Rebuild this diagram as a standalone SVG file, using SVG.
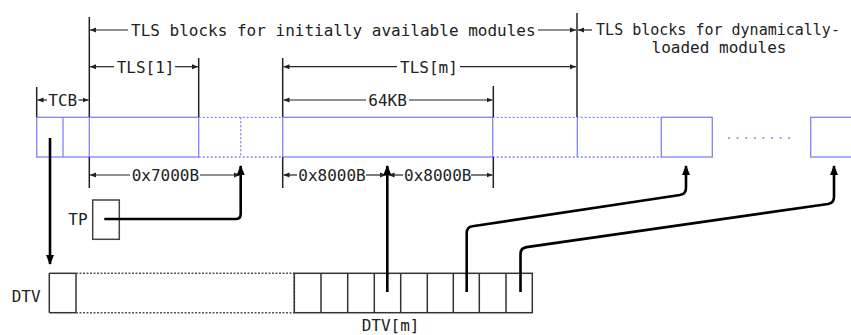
<svg xmlns="http://www.w3.org/2000/svg" width="851" height="335" viewBox="0 0 851 335">
<defs>
<style>
text{font-family:"DejaVu Sans Mono","Liberation Mono",monospace;font-size:16px;fill:#222}
.blue{fill:none;stroke:#8080ff;stroke-width:1.3}
.bdot{fill:none;stroke:#8080ff;stroke-width:1.3;stroke-dasharray:2 2}
.dtv{fill:none;stroke:#333;stroke-width:1.5}
.ddot{fill:none;stroke:#555;stroke-width:1.5;stroke-dasharray:2 1.5}
.tick{stroke:#222;stroke-width:1.5}
.dim{stroke:#222;stroke-width:1.2;fill:none}
.ptr{stroke:#000;stroke-width:2.6;fill:none}
</style>
<marker id="da" markerWidth="6" markerHeight="6" refX="6" refY="3" orient="auto" markerUnits="userSpaceOnUse"><path d="M0,0.5 L6,3 L0,5.5 z" fill="#222"/></marker>
<marker id="pa" markerWidth="10" markerHeight="8" refX="9" refY="4" orient="auto" markerUnits="userSpaceOnUse"><path d="M0,0 L10,4 L0,8 z" fill="#000"/></marker>
</defs>
<rect width="851" height="335" fill="#fff"/>

<g id="tls-bar">
<rect class="blue" x="36.7" y="117.3" width="162" height="39.7"/>
<line class="blue" x1="63" y1="117.3" x2="63" y2="157"/>
<line class="blue" x1="89.3" y1="117.3" x2="89.3" y2="157"/>
<line class="bdot" x1="198.7" y1="117.3" x2="282.7" y2="117.3"/>
<line class="bdot" x1="198.7" y1="157" x2="282.7" y2="157"/>
<line class="bdot" x1="240.7" y1="117.3" x2="240.7" y2="157"/>
<rect class="blue" x="282.7" y="117.3" width="210" height="39.7"/>
<line class="bdot" x1="492.7" y1="117.3" x2="661.3" y2="117.3"/>
<line class="bdot" x1="492.7" y1="157" x2="661.3" y2="157"/>
<line class="blue" x1="577.3" y1="117.3" x2="577.3" y2="157"/>
<rect class="blue" x="661.3" y="117.3" width="51" height="39.7"/>
<line x1="728" y1="138" x2="792" y2="138" stroke="#8080ff" stroke-width="1.5" stroke-dasharray="2 6.6"/>
<rect class="blue" x="810.7" y="117.3" width="60" height="39.7"/>
</g>

<g id="dimensions">
<line class="tick" x1="89.3" y1="17" x2="89.3" y2="117"/>
<line class="tick" x1="577" y1="13" x2="577" y2="117"/>
<line class="dim" x1="128" y1="30" x2="90" y2="30" marker-end="url(#da)"/>
<text x="131" y="35.5">TLS blocks for initially available modules</text>
<line class="dim" x1="538" y1="30" x2="576" y2="30" marker-end="url(#da)"/>
<line class="dim" x1="592" y1="30" x2="578" y2="30" marker-end="url(#da)"/>
<text text-anchor="middle"><tspan x="718" y="35" font-size="15">TLS blocks for dynamically-</tspan><tspan x="719" y="52.5">loaded modules</tspan></text>

<line class="tick" x1="198.7" y1="58" x2="198.7" y2="117"/>
<line class="dim" x1="114" y1="66.7" x2="90" y2="66.7" marker-end="url(#da)"/>
<text x="116.7" y="73">TLS[1]</text>
<line class="dim" x1="175" y1="66.7" x2="198" y2="66.7" marker-end="url(#da)"/>

<line class="tick" x1="282.7" y1="58" x2="282.7" y2="117"/>
<line class="dim" x1="397" y1="66.7" x2="283.5" y2="66.7" marker-end="url(#da)"/>
<text x="400" y="73">TLS[m]</text>
<line class="dim" x1="460" y1="66.7" x2="576" y2="66.7" marker-end="url(#da)"/>

<line class="tick" x1="493.3" y1="86" x2="493.3" y2="117"/>
<line class="dim" x1="366" y1="100" x2="283.5" y2="100" marker-end="url(#da)"/>
<text x="368.3" y="106">64KB</text>
<line class="dim" x1="409" y1="100" x2="492.5" y2="100" marker-end="url(#da)"/>

<line class="tick" x1="36.7" y1="87" x2="36.7" y2="117"/>
<line class="dim" x1="47" y1="100" x2="37.5" y2="100" marker-end="url(#da)"/>
<text x="48.3" y="106">TCB</text>
<line class="dim" x1="78.5" y1="100" x2="88.5" y2="100" marker-end="url(#da)"/>

<line class="tick" x1="89.3" y1="157" x2="89.3" y2="188"/>
<line class="dim" x1="130" y1="175" x2="90" y2="175" marker-end="url(#da)"/>
<text x="131.7" y="181">0x7000B</text>
<line class="dim" x1="200" y1="175" x2="240" y2="175" marker-end="url(#da)"/>

<line class="tick" x1="282.7" y1="157" x2="282.7" y2="188"/>
<line class="dim" x1="297" y1="175" x2="283.5" y2="175" marker-end="url(#da)"/>
<text x="298.3" y="181">0x8000B</text>
<line class="dim" x1="366" y1="175" x2="386" y2="175" marker-end="url(#da)"/>
<line class="dim" x1="403" y1="175" x2="388.5" y2="175" marker-end="url(#da)"/>
<text x="404" y="181">0x8000B</text>
<line class="dim" x1="471" y1="175" x2="492.5" y2="175" marker-end="url(#da)"/>
<line class="tick" x1="493.3" y1="157" x2="493.3" y2="188"/>
</g>

<g id="tp">
<rect x="92.7" y="200" width="26.6" height="39.3" fill="none" stroke="#444" stroke-width="1.5"/>
<text x="68.3" y="225">TP</text>
</g>

<g id="dtv">
<text x="11.7" y="301.5">DTV</text>
<line class="dtv" x1="49.3" y1="273.3" x2="76" y2="273.3"/>
<line class="dtv" x1="49.3" y1="312.7" x2="76" y2="312.7"/>
<line class="dtv" x1="49.3" y1="273.3" x2="49.3" y2="312.7"/>
<line class="dtv" x1="76" y1="273.3" x2="76" y2="312.7"/>
<line class="ddot" x1="76" y1="273.3" x2="294.3" y2="273.3"/>
<line class="ddot" x1="76" y1="312.7" x2="294.3" y2="312.7"/>
<line class="ddot" x1="294.3" y1="273.3" x2="294.3" y2="312.7"/>
<rect class="dtv" x="294.3" y="273.3" width="238" height="39.4"/>
<path class="dtv" d="M321,273.3V312.7M347.7,273.3V312.7M374.3,273.3V312.7M400.7,273.3V312.7M427.3,273.3V312.7M453.3,273.3V312.7M479.3,273.3V312.7M506,273.3V312.7"/>
<text x="361.7" y="331">DTV[m]</text>
</g>

<g id="connectors">
<path class="ptr" d="M50,138 V264" marker-end="url(#pa)"/>
<path class="ptr" d="M104.3,219 H235.7 Q240.7,219 240.7,214 V166" marker-end="url(#pa)"/>
<path class="ptr" d="M387.3,292 V166" marker-end="url(#pa)"/>
<path class="ptr" d="M466.7,292 V233 Q466.7,227 472.5,226.2 L680,195 Q686,194 686,188 V166" marker-end="url(#pa)"/>
<path class="ptr" d="M520.5,292 V254 Q520.5,248 526.5,247.1 L828,204 Q834,203 834,197 V166" marker-end="url(#pa)"/>
</g>
</svg>
